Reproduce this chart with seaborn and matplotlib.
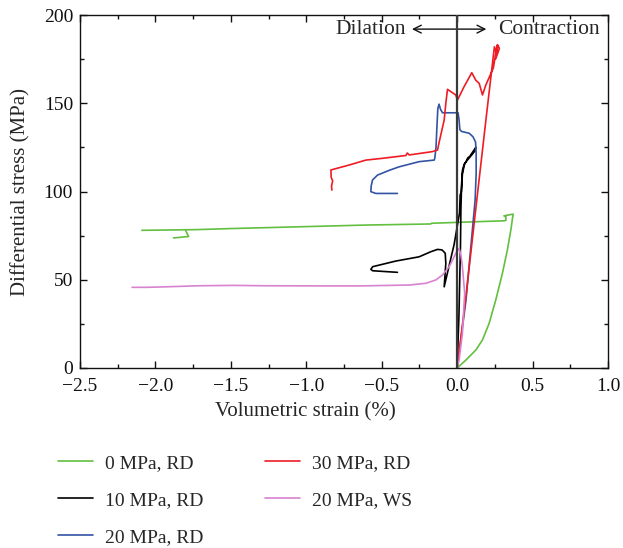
import numpy as np
import pandas as pd
import matplotlib
matplotlib.use("Agg")
import matplotlib.pyplot as plt
from matplotlib.lines import Line2D
from matplotlib.ticker import MultipleLocator, FuncFormatter
import seaborn as sns

# ---- data: volumetric strain (%) vs differential stress (MPa) ----
rd0_strain = [0, 0.058, 0.124, 0.168, 0.212, 0.256, 0.30, 0.333, 0.356, 0.371,
              0.31, 0.323, 0.323, 0.31, 0.10, -0.17, -0.175, -0.6, -1.05, -1.5,
              -1.73, -2.09]
rd0_stress = [0, 4.5, 10.2, 15.9, 25.3, 38.5, 53.6, 66.9, 78.2, 87.2,
              86.2, 85.7, 83.6, 83.4, 82.8, 82.0, 81.6, 81.0, 80.0, 79.0,
              78.4, 78.0]
rd0_hook_strain = [-1.80, -1.78, -1.88]
rd0_hook_stress = [77.9, 74.5, 73.7]

rd10_strain = [0, 0.012, 0.022, 0.025, 0.03, 0.035, 0.045, 0.06, 0.07, 0.085,
               0.10, 0.124, 0.118, 0.085, 0.05, 0.035, 0.028, 0.02, 0.016, -0.02,
               -0.086, -0.075, -0.079, -0.10, -0.13, -0.174, -0.252, -0.406, -0.56,
               -0.572, -0.56, -0.396]
rd10_stress = [0, 30, 69, 90, 105, 112, 115, 117, 119, 120,
               122, 125, 123, 119.5, 116, 110, 100, 98, 88, 70,
               46, 59.3, 65, 66.9, 67.2, 65.9, 63, 60.6, 57.4,
               55.9, 55.1, 54.2]

rd20_strain = [0, 0.058, 0.119, 0.126, 0.126, 0.122, 0.105, 0.08, 0.03, 0.018,
               0.013, 0.006, -0.05, -0.097, -0.11, -0.12, -0.128, -0.135, -0.14,
               -0.148, -0.152, -0.252, -0.384, -0.45, -0.473, -0.528, -0.561,
               -0.57, -0.572, -0.539, -0.396]
rd20_stress = [0, 38, 95, 110, 122, 128, 131, 133, 134, 135,
               140.5, 144.6, 144.6, 144.6, 146.5, 149.5, 147, 135, 125,
               119, 117.8, 116.9, 114, 112, 111.2, 109.3, 106.5,
               103, 99.9, 98.9, 98.9]

rd30_strain = [0, 0.06, 0.13, 0.19, 0.247, 0.26, 0.27, 0.28, 0.255, 0.265,
               0.24, 0.19, 0.168, 0.146, 0.124, 0.097, 0.046, 0.002, -0.009,
               -0.042, -0.064, -0.075, -0.086, -0.119, -0.13, -0.164, -0.318,
               -0.33, -0.34, -0.495, -0.605, -0.716, -0.837, -0.835, -0.825,
               -0.833, -0.83]
rd30_stress = [0, 42, 95, 140, 182, 178, 183, 181, 175, 183,
               170, 160.3, 154.7, 161.3, 163, 167.3, 159.4, 151.8, 154.7,
               156.6, 157.9, 150, 140.5, 128, 123.5, 122.6, 120.7,
               121.8, 120.4, 118.8, 117.8, 115, 112.2, 108, 106,
               103, 100.8]

ws20_strain = [0, 0.013, 0.035, 0.05, 0.035, 0.025, 0.013, -0.009, -0.031,
               -0.053, -0.097, -0.141, -0.207, -0.318, -0.65, -0.848, -1.27,
               -1.49, -1.71, -1.93, -2.06, -2.155]
ws20_stress = [0, 4.5, 19.6, 42.3, 57.4, 64, 67.8, 65, 61,
               57.4, 52.7, 49.9, 48, 47, 46.5, 46.5, 46.6,
               46.8, 46.6, 46, 45.7, 45.7]

labels = ["0 MPa, RD", "10 MPa, RD", "20 MPa, RD", "30 MPa, RD", "20 MPa, WS"]
colors = ["#62bf3f", "#000000", "#3353a3", "#ee1c25", "#d982cf"]

segments = [
    (labels[0], 0, rd0_strain, rd0_stress),
    (labels[0], 1, rd0_hook_strain, rd0_hook_stress),
    (labels[1], 0, rd10_strain, rd10_stress),
    (labels[2], 0, rd20_strain, rd20_stress),
    (labels[3], 0, rd30_strain, rd30_stress),
    (labels[4], 0, ws20_strain, ws20_stress),
]
frames = []
for name, seg, xs, ys in segments:
    frames.append(pd.DataFrame({"strain": xs, "stress": ys,
                                "series": name, "seg": f"{name}-{seg}"}))
df = pd.concat(frames, ignore_index=True)

sns.set_theme(style="ticks")
plt.rcParams["font.family"] = ["Liberation Serif", "DejaVu Serif"]

fig = plt.figure(figsize=(6.23, 5.48), dpi=100)
ax = fig.add_axes([80 / 623, 180 / 548, 528 / 623, 353 / 548])

palette = dict(zip(labels, colors))
sns.lineplot(data=df, x="strain", y="stress", hue="series", units="seg",
             estimator=None, sort=False, palette=palette, hue_order=labels,
             legend=False, linewidth=1.2, ax=ax)

ax.axvline(0, color="#3a3a3a", lw=1.6, zorder=5)

ax.set_xlim(-2.5, 1.0)
ax.set_ylim(0, 200)
ax.xaxis.set_major_locator(MultipleLocator(0.5))
ax.xaxis.set_minor_locator(MultipleLocator(0.25))
ax.yaxis.set_major_locator(MultipleLocator(50))
ax.yaxis.set_minor_locator(MultipleLocator(25))
ax.tick_params(which="both", direction="in", top=True, right=True,
               labelsize=14, colors="#111111", width=1.0)
ax.tick_params(which="major", length=5)
ax.tick_params(which="minor", length=3)
ax.tick_params(axis="x", which="major", pad=7)
ax.tick_params(axis="y", which="major", pad=5)
ax.xaxis.set_major_formatter(FuncFormatter(
    lambda v, p: f"{v:.1f}".replace("-", "\u2212")))
for s in ax.spines.values():
    s.set_linewidth(1.0)
    s.set_color("#111111")

ax.set_xlabel("Volumetric strain (%)", fontsize=15)
ax.set_ylabel("Differential stress (MPa)", fontsize=15)
ax.xaxis.set_label_coords((305 - 80) / 528, -0.096)
ax.yaxis.set_label_coords(-0.093, 0.5)

# direction annotation
ax.annotate("", xy=(-0.318, 192), xytext=(0.212, 192),
            arrowprops=dict(arrowstyle="<->", lw=1.0, color="#111111",
                            mutation_scale=14))
ax.text(-0.34, 192, "Dilation", ha="right", va="center", fontsize=15.5)
ax.text(0.27, 192, "Contraction", ha="left", va="center", fontsize=15.5)

handles = [Line2D([0], [0], color=c, lw=1.2) for c in colors]
fig.legend(handles, labels, loc="upper left",
           bbox_to_anchor=(58 / 623, (548 - 454) / 548), ncol=2,
           frameon=False, fontsize=14, handlelength=1.8, handletextpad=0.6,
           columnspacing=3.2, labelspacing=1.0, borderpad=0,
           borderaxespad=0)

fig.savefig("out.png", dpi=100)
